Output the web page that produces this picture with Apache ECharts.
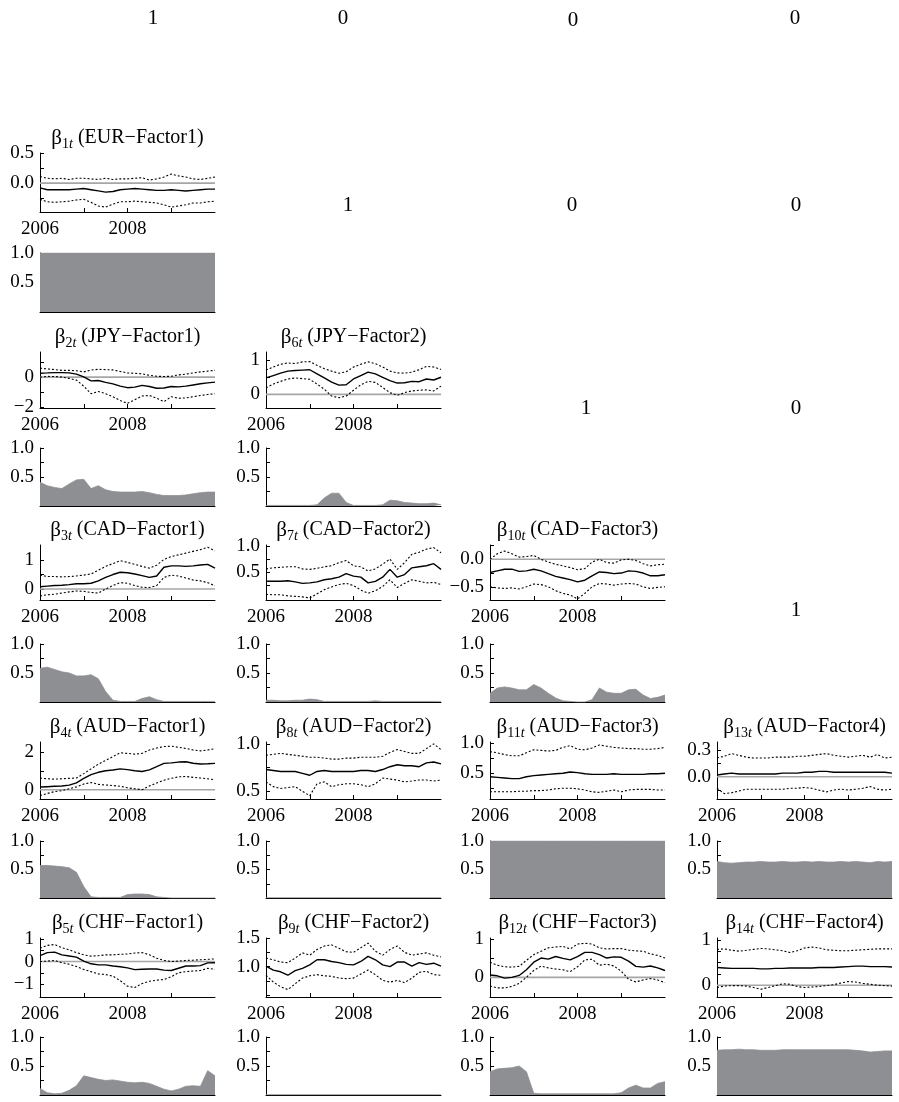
<!DOCTYPE html>
<html>
<head>
<meta charset="utf-8">
<script src="https://cdn.jsdelivr.net/npm/echarts@6/dist/echarts.min.js"></script>
<style>
html, body { margin: 0; padding: 0; background: #fff; }
#chart { width: 899px; height: 1102px; }
</style>
</head>
<body>
<div id="chart"></div>
<script>
// ---- time grid (decimal years, two-month steps) ----
const dates = [2006.000, 2006.167, 2006.333, 2006.500, 2006.667, 2006.833,
               2007.000, 2007.167, 2007.333, 2007.500, 2007.667, 2007.833,
               2008.000, 2008.167, 2008.333, 2008.500, 2008.667, 2008.833,
               2009.000, 2009.167, 2009.333, 2009.500, 2009.667, 2009.833, 2010.000];
const xLabelYears = [2006, 2008];
const xTickYears = [2007, 2008, 2009];

// ---- fixed loadings shown as numbers: [row, col, value] ----
const fixedLoadings = [[0,0,1],[0,1,0],[0,2,0],[0,3,0],
                       [1,1,1],[1,2,0],[1,3,0],
                       [2,2,1],[2,3,0],
                       [3,3,1]];

// ---- posterior mean, 95% band and inclusion probability of each loading ----
const b1Mean = [-0.08,-0.11,-0.11,-0.11,-0.11,-0.10,-0.09,-0.11,-0.13,-0.15,-0.14,-0.11,-0.10,-0.09,-0.10,-0.11,-0.12,-0.12,-0.11,-0.12,-0.13,-0.12,-0.11,-0.10,-0.10];
const b1Up   = [0.11,0.08,0.07,0.08,0.06,0.08,0.08,0.07,0.06,0.08,0.06,0.07,0.07,0.08,0.09,0.05,0.07,0.10,0.15,0.12,0.10,0.07,0.06,0.08,0.10];
const b1Lo   = [-0.27,-0.31,-0.32,-0.31,-0.30,-0.28,-0.27,-0.32,-0.38,-0.40,-0.35,-0.31,-0.31,-0.30,-0.31,-0.32,-0.33,-0.36,-0.40,-0.38,-0.36,-0.33,-0.33,-0.31,-0.30];
const b1Prob = [1,1,1,1,1,1,1,1,1,1,1,1,1,1,1,1,1,1,1,1,1,1,1,1,1];

const b2Mean = [0.26,0.28,0.30,0.30,0.28,0.20,0.02,-0.25,-0.22,-0.35,-0.45,-0.60,-0.70,-0.66,-0.55,-0.62,-0.74,-0.72,-0.62,-0.65,-0.60,-0.52,-0.44,-0.38,-0.33];
const b2Up   = [0.59,0.55,0.50,0.45,0.45,0.42,0.35,0.47,0.52,0.50,0.48,0.38,0.28,0.25,0.22,0.12,0.06,0.04,0.06,0.15,0.20,0.28,0.35,0.40,0.45];
const b2Lo   = [0.00,0.05,0.04,0.00,-0.08,-0.20,-0.60,-1.10,-0.95,-1.10,-1.30,-1.55,-1.74,-1.50,-1.25,-1.22,-1.40,-1.63,-1.30,-1.40,-1.38,-1.30,-1.22,-1.15,-1.10];
const b2Prob = [0.41,0.35,0.32,0.30,0.38,0.45,0.46,0.30,0.35,0.28,0.25,0.24,0.24,0.24,0.25,0.23,0.20,0.18,0.18,0.18,0.19,0.21,0.23,0.24,0.24];

const b3Mean = [0.08,0.10,0.12,0.13,0.15,0.18,0.18,0.20,0.28,0.40,0.50,0.58,0.56,0.52,0.46,0.40,0.45,0.75,0.80,0.80,0.78,0.80,0.83,0.85,0.72];
const b3Up   = [0.48,0.43,0.43,0.42,0.43,0.45,0.48,0.52,0.65,0.78,0.88,0.98,0.92,0.85,0.78,0.72,0.82,1.02,1.12,1.18,1.24,1.30,1.36,1.44,1.32];
const b3Lo   = [-0.24,-0.20,-0.18,-0.14,-0.10,-0.07,-0.08,-0.12,-0.14,0.00,0.12,0.22,0.20,0.12,0.06,0.05,0.12,0.40,0.48,0.45,0.38,0.31,0.28,0.22,0.11];
const b3Prob = [0.58,0.60,0.56,0.52,0.50,0.45,0.45,0.47,0.40,0.18,0.03,0.01,0.01,0.01,0.06,0.09,0.04,0.01,0.01,0.01,0.01,0.01,0.01,0.01,0.01];

const b4Mean = [0.14,0.16,0.18,0.20,0.24,0.36,0.60,0.80,0.92,1.00,1.04,1.10,1.06,1.00,0.96,1.05,1.22,1.39,1.42,1.46,1.48,1.40,1.36,1.37,1.39];
const b4Up   = [0.61,0.58,0.56,0.58,0.60,0.62,0.85,1.10,1.35,1.55,1.75,1.95,1.92,1.88,1.92,2.10,2.20,2.28,2.30,2.24,2.18,2.10,2.05,2.10,2.17];
const b4Lo   = [-0.31,-0.20,-0.10,-0.05,0.05,0.15,0.30,0.38,0.28,0.25,0.22,0.18,0.10,0.05,0.00,0.20,0.35,0.50,0.60,0.68,0.70,0.65,0.62,0.58,0.52];
const b4Prob = [0.57,0.57,0.56,0.55,0.53,0.45,0.20,0.02,0.01,0.01,0.01,0.01,0.06,0.07,0.07,0.06,0.02,0.01,0.00,0.00,0.00,0.00,0.00,0.00,0.00];

const b5Mean = [0.26,0.40,0.42,0.30,0.25,0.20,0.02,-0.10,-0.15,-0.15,-0.20,-0.23,-0.28,-0.36,-0.34,-0.33,-0.33,-0.38,-0.40,-0.30,-0.20,-0.20,-0.18,-0.06,-0.05];
const b5Up   = [0.60,0.72,0.76,0.62,0.52,0.40,0.30,0.24,0.26,0.30,0.30,0.32,0.34,0.38,0.40,0.30,0.15,0.05,0.00,0.02,0.05,0.06,0.08,0.10,0.12];
const b5Lo   = [0.00,0.02,0.05,-0.05,-0.12,-0.22,-0.35,-0.45,-0.55,-0.58,-0.65,-0.85,-1.10,-1.16,-0.98,-0.88,-0.83,-0.80,-0.68,-0.50,-0.45,-0.42,-0.40,-0.30,-0.35];
const b5Prob = [0.11,0.04,0.02,0.03,0.08,0.16,0.33,0.30,0.27,0.25,0.26,0.24,0.22,0.21,0.22,0.20,0.15,0.10,0.07,0.10,0.15,0.16,0.15,0.42,0.33];

const b6Mean = [0.48,0.55,0.62,0.68,0.70,0.71,0.72,0.60,0.48,0.36,0.27,0.28,0.45,0.55,0.65,0.60,0.50,0.40,0.33,0.34,0.38,0.37,0.45,0.42,0.50];
const b6Up   = [0.71,0.80,0.88,0.92,0.90,0.95,0.96,0.85,0.75,0.68,0.62,0.66,0.80,0.88,0.95,0.90,0.80,0.68,0.63,0.62,0.65,0.72,0.82,0.80,0.73];
const b6Lo   = [0.19,0.30,0.38,0.45,0.48,0.46,0.44,0.30,0.15,-0.05,-0.10,-0.05,0.12,0.28,0.38,0.35,0.20,0.05,-0.03,0.05,0.10,0.12,0.13,0.10,0.24];
const b6Prob = [0.01,0.01,0.01,0.01,0.01,0.01,0.01,0.02,0.14,0.22,0.22,0.06,0.01,0.01,0.01,0.01,0.02,0.10,0.09,0.06,0.05,0.04,0.04,0.05,0.02];

const b7Mean = [0.32,0.32,0.32,0.33,0.31,0.28,0.29,0.31,0.35,0.37,0.40,0.47,0.42,0.40,0.29,0.32,0.40,0.55,0.40,0.45,0.58,0.60,0.62,0.66,0.55];
const b7Up   = [0.56,0.58,0.59,0.60,0.60,0.56,0.55,0.57,0.60,0.62,0.68,0.72,0.62,0.60,0.52,0.56,0.65,0.75,0.55,0.68,0.84,0.88,0.94,0.97,0.87];
const b7Lo   = [0.07,0.06,0.06,0.04,0.03,0.02,0.00,0.08,0.16,0.21,0.26,0.28,0.24,0.15,0.09,0.14,0.22,0.35,0.20,0.28,0.35,0.32,0.29,0.30,0.26];
const b7Prob = [0.03,0.03,0.02,0.02,0.03,0.03,0.05,0.04,0.01,0.01,0.01,0.01,0.01,0.01,0.01,0.02,0.01,0.01,0.01,0.01,0.01,0.01,0.01,0.01,0.01];

const b8Mean = [0.73,0.72,0.71,0.71,0.71,0.69,0.67,0.71,0.72,0.71,0.71,0.71,0.71,0.72,0.72,0.71,0.73,0.76,0.78,0.77,0.77,0.76,0.80,0.81,0.79];
const b8Up   = [0.88,0.89,0.90,0.89,0.88,0.87,0.86,0.86,0.85,0.84,0.84,0.85,0.85,0.86,0.86,0.86,0.87,0.91,0.94,0.92,0.90,0.90,0.95,1.00,0.94];
const b8Lo   = [0.60,0.55,0.53,0.54,0.55,0.50,0.455,0.58,0.60,0.55,0.57,0.58,0.58,0.57,0.55,0.58,0.64,0.63,0.62,0.60,0.61,0.62,0.62,0.61,0.62];
const b8Prob = [0.005,0.005,0.005,0.005,0.005,0.005,0.005,0.005,0.005,0.005,0.005,0.005,0.005,0.005,0.005,0.005,0.005,0.005,0.005,0.005,0.005,0.005,0.005,0.005,0.005];

const b9Mean = [1.01,0.94,0.91,0.85,0.93,0.97,1.03,1.12,1.12,1.09,1.07,1.04,1.03,1.09,1.18,1.12,1.03,1.00,1.08,1.08,1.01,1.07,1.04,1.06,1.01];
const b9Up   = [1.15,1.12,1.08,1.07,1.15,1.24,1.20,1.30,1.36,1.38,1.32,1.26,1.25,1.33,1.41,1.27,1.20,1.30,1.36,1.25,1.20,1.22,1.24,1.20,1.17];
const b9Lo   = [0.85,0.73,0.65,0.60,0.70,0.80,0.84,0.86,0.84,0.83,0.80,0.79,0.80,0.87,0.94,0.86,0.76,0.73,0.76,0.72,0.80,0.90,0.92,0.86,0.85];
const b9Prob = [0.005,0.005,0.005,0.005,0.005,0.005,0.005,0.005,0.005,0.005,0.005,0.005,0.005,0.005,0.005,0.005,0.005,0.005,0.005,0.005,0.005,0.005,0.005,0.005,0.005];

const b10Mean = [-0.24,-0.21,-0.18,-0.18,-0.22,-0.21,-0.18,-0.21,-0.26,-0.31,-0.34,-0.37,-0.41,-0.38,-0.30,-0.23,-0.24,-0.26,-0.25,-0.21,-0.22,-0.25,-0.30,-0.30,-0.28];
const b10Up   = [0.00,0.10,0.15,0.10,0.04,0.05,0.07,0.00,-0.05,-0.09,-0.12,-0.15,-0.19,-0.17,-0.05,0.00,-0.06,-0.07,-0.01,0.00,-0.02,-0.08,-0.12,-0.10,-0.09];
const b10Lo   = [-0.50,-0.52,-0.53,-0.52,-0.54,-0.50,-0.45,-0.46,-0.50,-0.57,-0.62,-0.65,-0.72,-0.62,-0.50,-0.44,-0.45,-0.47,-0.45,-0.44,-0.45,-0.50,-0.53,-0.51,-0.50];
const b10Prob = [0.15,0.24,0.26,0.24,0.21,0.21,0.30,0.24,0.15,0.07,0.02,0.01,0.00,0.00,0.04,0.24,0.17,0.15,0.15,0.21,0.22,0.12,0.06,0.08,0.12];

const b11Mean = [0.44,0.43,0.42,0.41,0.41,0.44,0.46,0.47,0.48,0.49,0.50,0.52,0.51,0.49,0.48,0.48,0.48,0.49,0.48,0.48,0.48,0.48,0.49,0.49,0.50];
const b11Up   = [0.86,0.84,0.81,0.79,0.79,0.84,0.89,0.88,0.87,0.88,0.93,0.96,0.90,0.89,0.92,0.97,0.95,0.93,0.92,0.91,0.91,0.90,0.90,0.91,0.93];
const b11Lo   = [0.19,0.19,0.19,0.19,0.20,0.20,0.21,0.21,0.22,0.24,0.25,0.25,0.24,0.22,0.19,0.18,0.20,0.22,0.19,0.22,0.23,0.23,0.23,0.22,0.22];
const b11Prob = [1,1,1,1,1,1,1,1,1,1,1,1,1,1,1,1,1,1,1,1,1,1,1,1,1];

const b12Mean = [0.06,0.04,-0.02,0.00,0.05,0.20,0.40,0.51,0.48,0.55,0.50,0.46,0.55,0.66,0.66,0.60,0.51,0.54,0.53,0.43,0.29,0.27,0.30,0.25,0.18];
const b12Up   = [0.40,0.32,0.28,0.27,0.29,0.45,0.60,0.69,0.78,0.80,0.82,0.75,0.88,0.90,0.88,0.78,0.75,0.76,0.76,0.72,0.70,0.69,0.62,0.58,0.51];
const b12Lo   = [-0.23,-0.28,-0.28,-0.24,-0.16,0.00,0.18,0.30,0.25,0.22,0.20,0.15,0.28,0.46,0.48,0.32,0.35,0.30,0.16,-0.05,-0.12,-0.07,-0.03,-0.07,-0.14];
const b12Prob = [0.40,0.45,0.46,0.47,0.50,0.40,0.03,0.02,0.02,0.02,0.02,0.02,0.02,0.02,0.02,0.02,0.02,0.02,0.04,0.12,0.17,0.12,0.12,0.20,0.23];

const b13Mean = [0.02,0.03,0.04,0.03,0.03,0.03,0.03,0.03,0.03,0.04,0.04,0.04,0.05,0.05,0.06,0.06,0.05,0.05,0.05,0.05,0.05,0.05,0.05,0.05,0.04];
const b13Up   = [0.21,0.23,0.26,0.24,0.22,0.21,0.21,0.21,0.22,0.22,0.22,0.23,0.23,0.24,0.25,0.26,0.24,0.23,0.22,0.23,0.24,0.22,0.25,0.21,0.22];
const b13Lo   = [-0.13,-0.19,-0.18,-0.16,-0.14,-0.14,-0.14,-0.14,-0.14,-0.14,-0.13,-0.13,-0.12,-0.13,-0.15,-0.17,-0.15,-0.14,-0.15,-0.14,-0.13,-0.11,-0.14,-0.15,-0.14];
const b13Prob = [0.64,0.62,0.61,0.62,0.63,0.63,0.64,0.63,0.63,0.64,0.63,0.63,0.64,0.63,0.64,0.63,0.63,0.64,0.63,0.64,0.63,0.62,0.64,0.63,0.64];

const b14Mean = [0.39,0.38,0.37,0.37,0.37,0.37,0.36,0.36,0.37,0.37,0.38,0.38,0.38,0.38,0.39,0.39,0.39,0.40,0.41,0.42,0.42,0.41,0.41,0.41,0.40];
const b14Up   = [0.79,0.80,0.77,0.75,0.77,0.79,0.81,0.80,0.78,0.76,0.72,0.76,0.82,0.84,0.82,0.78,0.77,0.76,0.76,0.77,0.78,0.79,0.80,0.80,0.80];
const b14Lo   = [-0.05,-0.02,-0.01,-0.01,-0.02,-0.05,-0.09,-0.05,-0.01,0.03,0.02,-0.03,-0.05,-0.04,-0.03,-0.01,0.01,0.05,0.08,0.07,0.04,0.02,0.00,-0.01,-0.02];
const b14Prob = [0.77,0.78,0.78,0.79,0.78,0.78,0.77,0.77,0.77,0.78,0.78,0.78,0.78,0.78,0.78,0.78,0.78,0.78,0.78,0.77,0.76,0.74,0.75,0.76,0.76];

// ---- per-loading axis ranges, tick values and tick labels ----
const betaRange = {
  1: [-0.48, 0.5], 2: [-2.05, 1.67], 3: [-0.38, 1.52], 4: [-0.49, 2.52], 5: [-1.58, 1.05],
  6: [-0.4, 1.24], 7: [-0.04, 1.02], 8: [0.42, 1.02], 9: [0.47, 1.5], 10: [-0.74, 0.26],
  11: [0.07, 1.02], 12: [-0.52, 1.04], 13: [-0.25, 0.39], 14: [-0.26, 1.04]
};
const betaTicks = {
  1: [-0.25, 0, 0.25, 0.5], 2: [-2, -1, 0, 1], 3: [0, 0.5, 1], 4: [0, 1, 2], 5: [-1, -0.5, 0, 0.5, 1],
  6: [0, 0.5, 1], 7: [0.25, 0.5, 0.75, 1], 8: [0.5, 0.75, 1], 9: [0.5, 0.75, 1, 1.25, 1.5], 10: [-0.5, -0.25, 0, 0.25],
  11: [0.25, 0.5, 0.75, 1], 12: [0, 0.5, 1], 13: [-0.15, 0, 0.15, 0.3], 14: [0, 0.25, 0.5, 0.75, 1]
};
const betaLabels = {
  1: [[0.5, '0.5'], [0, '0.0']], 2: [[0, '0'], [-2, '\u22122']], 3: [[1, '1'], [0, '0']],
  4: [[2, '2'], [0, '0']], 5: [[1, '1'], [0, '0'], [-1, '\u22121']], 6: [[1, '1'], [0, '0']],
  7: [[1, '1.0'], [0.5, '0.5']], 8: [[1, '1.0'], [0.5, '0.5']], 9: [[1.5, '1.5'], [1, '1.0']],
  10: [[0, '0.0'], [-0.5, '\u22120.5']], 11: [[1, '1.0'], [0.5, '0.5']], 12: [[1, '1'], [0, '0']],
  13: [[0.3, '0.3'], [0, '0.0']], 14: [[1, '1'], [0, '0']]
};
const probTicks = [0.25, 0.5, 0.75, 1];
const probLabels = [[1, '1.0'], [0.5, '0.5']];

// ---- panel list: loading index, currency, factor, grid row and column ----
const panels = [
  { k: 1,  cur: 'EUR', f: 1, row: 0, col: 0, mean: b1Mean,  up: b1Up,  lo: b1Lo,  prob: b1Prob },
  { k: 2,  cur: 'JPY', f: 1, row: 1, col: 0, mean: b2Mean,  up: b2Up,  lo: b2Lo,  prob: b2Prob },
  { k: 6,  cur: 'JPY', f: 2, row: 1, col: 1, mean: b6Mean,  up: b6Up,  lo: b6Lo,  prob: b6Prob },
  { k: 3,  cur: 'CAD', f: 1, row: 2, col: 0, mean: b3Mean,  up: b3Up,  lo: b3Lo,  prob: b3Prob },
  { k: 7,  cur: 'CAD', f: 2, row: 2, col: 1, mean: b7Mean,  up: b7Up,  lo: b7Lo,  prob: b7Prob },
  { k: 10, cur: 'CAD', f: 3, row: 2, col: 2, mean: b10Mean, up: b10Up, lo: b10Lo, prob: b10Prob },
  { k: 4,  cur: 'AUD', f: 1, row: 3, col: 0, mean: b4Mean,  up: b4Up,  lo: b4Lo,  prob: b4Prob },
  { k: 8,  cur: 'AUD', f: 2, row: 3, col: 1, mean: b8Mean,  up: b8Up,  lo: b8Lo,  prob: b8Prob },
  { k: 11, cur: 'AUD', f: 3, row: 3, col: 2, mean: b11Mean, up: b11Up, lo: b11Lo, prob: b11Prob },
  { k: 13, cur: 'AUD', f: 4, row: 3, col: 3, mean: b13Mean, up: b13Up, lo: b13Lo, prob: b13Prob },
  { k: 5,  cur: 'CHF', f: 1, row: 4, col: 0, mean: b5Mean,  up: b5Up,  lo: b5Lo,  prob: b5Prob },
  { k: 9,  cur: 'CHF', f: 2, row: 4, col: 1, mean: b9Mean,  up: b9Up,  lo: b9Lo,  prob: b9Prob },
  { k: 12, cur: 'CHF', f: 3, row: 4, col: 2, mean: b12Mean, up: b12Up, lo: b12Lo, prob: b12Prob },
  { k: 14, cur: 'CHF', f: 4, row: 4, col: 3, mean: b14Mean, up: b14Up, lo: b14Lo, prob: b14Prob }
];

// ---- layout (pixels) ----
const FONT = 'Liberation Serif, Times New Roman, serif';
const TICK_FONT_SIZE = 19;
const colLeft = [40, 266, 490, 717];
const colWidth = 175;
const lineTop = [153, 352, 545, 742, 938];
const lineBottom = [212, 408, 600, 799, 997];
const areaTop = [253, 448, 644, 841, 1037];
const areaBottom = [312, 506, 702, 898, 1095];
const fixedPos = {
  '0,0': [153, 18], '0,1': [343, 18], '0,2': [573, 20], '0,3': [795, 18],
  '1,1': [348, 205], '1,2': [572, 205], '1,3': [796, 205],
  '2,2': [586, 408], '2,3': [796, 408],
  '3,3': [796, 610]
};
const AREA_GRAY = '#8e8f93';

const grids = [], xAxes = [], yAxes = [], series = [], graphics = [];

function labelLookup(pairs) {
  return function (v) {
    for (const p of pairs) if (Math.abs(p[0] - v) < 1e-9) return p[1];
    return '';
  };
}

function axisLineStyle() { return { show: true, onZero: false, lineStyle: { color: '#000', width: 1 } }; }

panels.forEach(function (p) {
  const left = colLeft[p.col];
  // ---- upper panel: loading path with band ----
  const gi = grids.length;
  grids.push({ left: left, top: lineTop[p.row], width: colWidth,
               height: lineBottom[p.row] - lineTop[p.row], outerBoundsMode: 'none', containLabel: false });
  xAxes.push({
    gridIndex: gi, type: 'value', min: 2006, max: 2010,
    axisLine: axisLineStyle(),
    axisTick: { show: true, inside: true, length: 4, customValues: xTickYears, lineStyle: { color: '#000', width: 1 } },
    axisLabel: { show: true, customValues: xLabelYears, formatter: function (v) { return String(v); },
                 color: '#000', fontFamily: FONT, fontSize: TICK_FONT_SIZE, margin: 8 },
    splitLine: { show: false }
  });
  const rng = betaRange[p.k];
  yAxes.push({
    gridIndex: gi, type: 'value', min: rng[0], max: rng[1],
    axisLine: axisLineStyle(),
    axisTick: { show: true, inside: true, length: 4, customValues: betaTicks[p.k], lineStyle: { color: '#000', width: 1 } },
    axisLabel: { show: true, customValues: betaLabels[p.k].map(function (a) { return a[0]; }),
                 formatter: labelLookup(betaLabels[p.k]),
                 color: '#000', fontFamily: FONT, fontSize: TICK_FONT_SIZE, margin: 6 },
    splitLine: { show: false }
  });
  const toPts = function (arr) { return dates.map(function (d, j) { return [d, arr[j]]; }); };
  if (rng[0] < -0.05 && rng[1] > 0) {
    series.push({ type: 'line', xAxisIndex: gi, yAxisIndex: gi, data: [[2006, 0], [2010, 0]],
                  symbol: 'none', silent: true, animation: false,
                  lineStyle: { color: '#a6a6a6', width: 1.6 } });
  }
  [p.up, p.lo].forEach(function (arr) {
    series.push({ type: 'line', xAxisIndex: gi, yAxisIndex: gi, data: toPts(arr),
                  symbol: 'none', silent: true, animation: false,
                  lineStyle: { color: '#000', width: 1.1, type: [2, 2] } });
  });
  series.push({ type: 'line', xAxisIndex: gi, yAxisIndex: gi, data: toPts(p.mean),
                symbol: 'none', silent: true, animation: false,
                lineStyle: { color: '#000', width: 1.4 } });

  // ---- title ----
  graphics.push({
    type: 'text', x: left + colWidth / 2, y: lineTop[p.row] - 28, silent: true,
    style: {
      text: '{g|\u03b2}{s|' + p.k + '}{t|t}{n| (' + p.cur + '\u2212Factor' + p.f + ')}',
      align: 'center', verticalAlign: 'top', fill: '#000',
      rich: {
        g: { fontFamily: FONT, fontSize: 21, lineHeight: 26, fill: '#000' },
        s: { fontFamily: FONT, fontSize: 14, lineHeight: 10, verticalAlign: 'bottom', fill: '#000' },
        t: { fontFamily: FONT, fontSize: 14, fontStyle: 'italic', lineHeight: 10, verticalAlign: 'bottom', fill: '#000' },
        n: { fontFamily: FONT, fontSize: 20, lineHeight: 26, fill: '#000' }
      }
    }
  });

  // ---- lower panel: inclusion probability ----
  const ai = grids.length;
  grids.push({ left: left, top: areaTop[p.row], width: colWidth,
               height: areaBottom[p.row] - areaTop[p.row], outerBoundsMode: 'none', containLabel: false });
  xAxes.push({
    gridIndex: ai, type: 'value', min: 2006, max: 2010,
    axisLine: axisLineStyle(), axisTick: { show: false }, axisLabel: { show: false }, splitLine: { show: false }
  });
  yAxes.push({
    gridIndex: ai, type: 'value', min: 0, max: 1,
    axisLine: axisLineStyle(),
    axisTick: { show: true, inside: true, length: 4, customValues: probTicks, lineStyle: { color: '#000', width: 1 } },
    axisLabel: { show: true, customValues: probLabels.map(function (a) { return a[0]; }),
                 formatter: labelLookup(probLabels),
                 color: '#000', fontFamily: FONT, fontSize: TICK_FONT_SIZE, margin: 6 },
    splitLine: { show: false }
  });
  series.push({ type: 'line', xAxisIndex: ai, yAxisIndex: ai, data: toPts(p.prob),
                symbol: 'none', silent: true, animation: false, z: 1,
                lineStyle: { color: AREA_GRAY, width: 0.8 },
                areaStyle: { color: AREA_GRAY, opacity: 1, origin: 'start' } });
});

// ---- fixed loadings printed as numbers ----
fixedLoadings.forEach(function (e) {
  const pos = fixedPos[e[0] + ',' + e[1]];
  graphics.push({
    type: 'text', x: pos[0], y: pos[1], silent: true,
    style: { text: String(e[2]), align: 'center', verticalAlign: 'middle',
             fontFamily: FONT, fontSize: 21, fill: '#000' }
  });
});

const chart = echarts.init(document.getElementById('chart'), null, { renderer: 'canvas' });
chart.setOption({
  animation: false,
  backgroundColor: '#fff',
  grid: grids,
  xAxis: xAxes,
  yAxis: yAxes,
  series: series,
  graphic: { elements: graphics }
});
</script>
</body>
</html>
